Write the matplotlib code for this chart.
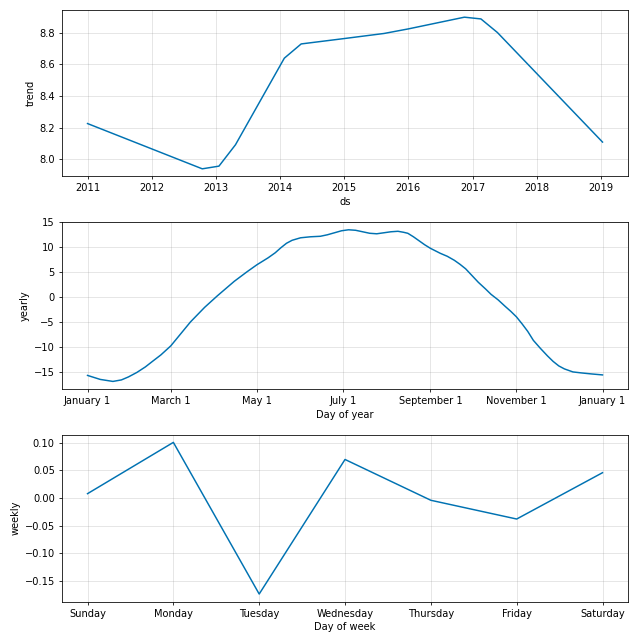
import numpy as np
import pandas as pd
import matplotlib
matplotlib.use('Agg')
from matplotlib import pyplot as plt
from matplotlib.dates import YearLocator, MonthLocator, DateFormatter, num2date
from matplotlib.ticker import FuncFormatter

# trend (changepoint knots)
trend_dates = ['2011-01-01', '2012-10-15', '2013-01-18', '2013-04-22', '2014-01-25',
               '2014-05-01', '2015-01-01', '2015-08-15', '2016-01-01', '2016-11-15',
               '2017-02-17', '2017-05-22', '2019-01-10']
trend_vals = [8.225, 7.939, 7.956, 8.091, 8.638, 8.728, 8.762, 8.794, 8.823, 8.897,
              8.886, 8.800, 8.108]

# yearly seasonality: day of year -> value
year_days = [0, 9, 18, 24, 29, 35, 41, 46, 52, 59, 66, 73, 83, 92, 104, 113, 120,
             128, 133, 137, 141, 145, 151, 158, 165, 170, 175, 180, 185, 190, 195,
             200, 205, 210, 215, 220, 224, 227, 231, 235, 239, 243, 250, 255, 260,
             264, 268, 272, 277, 282, 286, 291, 296, 300, 304, 308, 312, 316, 321,
             326, 330, 334, 338, 344, 350, 357, 365]
year_vals = [-15.6, -16.4, -16.8, -16.5, -15.9, -15.0, -13.9, -12.8, -11.5, -9.7,
             -7.3, -4.9, -2.0, 0.3, 3.2, 5.1, 6.5, 7.9, 8.9, 9.9, 10.8, 11.4, 11.9,
             12.1, 12.2, 12.5, 12.9, 13.3, 13.5, 13.4, 13.1, 12.8, 12.7, 12.9, 13.1,
             13.2, 13.0, 12.8, 12.1, 11.3, 10.5, 9.8, 8.8, 8.2, 7.4, 6.6, 5.7, 4.5,
             3.0, 1.7, 0.6, -0.5, -1.8, -2.8, -3.9, -5.3, -6.8, -8.6, -10.2, -11.7,
             -12.8, -13.7, -14.3, -14.9, -15.1, -15.3, -15.5]

# weekly seasonality
week_days = ['Sunday', 'Monday', 'Tuesday', 'Wednesday', 'Thursday', 'Friday', 'Saturday']
week_vals = [0.008, 0.101, -0.174, 0.070, -0.004, -0.038, 0.046]

color = '#0072B2'
fig, axes = plt.subplots(3, 1, figsize=(9, 9), dpi=640 / 9)

ax = axes[0]
ax.plot(pd.to_datetime(trend_dates), trend_vals, ls='-', c=color)
ax.xaxis.set_major_locator(YearLocator())
ax.xaxis.set_major_formatter(DateFormatter('%Y'))
ax.set_xlabel('ds')
ax.set_ylabel('trend')
ax.grid(True, which='major', c='gray', ls='-', lw=1, alpha=0.2)

ax = axes[1]
yd = pd.Timestamp('2017-01-01') + pd.to_timedelta(year_days, unit='D')
ax.plot(yd, year_vals, ls='-', c=color)
ax.xaxis.set_major_locator(MonthLocator(bymonth=[1, 3, 5, 7, 9, 11]))
ax.xaxis.set_major_formatter(FuncFormatter(
    lambda x, pos=None: '{dt:%B} {dt.day}'.format(dt=num2date(x))))
ax.set_xlabel('Day of year')
ax.set_ylabel('yearly')
ax.grid(True, which='major', c='gray', ls='-', lw=1, alpha=0.2)

ax = axes[2]
ax.plot(range(len(week_days)), week_vals, ls='-', c=color)
ax.set_xticks(range(len(week_days)))
ax.set_xticklabels(week_days)
ax.set_xlabel('Day of week')
ax.set_ylabel('weekly')
ax.grid(True, which='major', c='gray', ls='-', lw=1, alpha=0.2)

fig.tight_layout()
fig.subplots_adjust(bottom=0.06, top=0.985)
fig.savefig('out.png', dpi=640 / 9)
